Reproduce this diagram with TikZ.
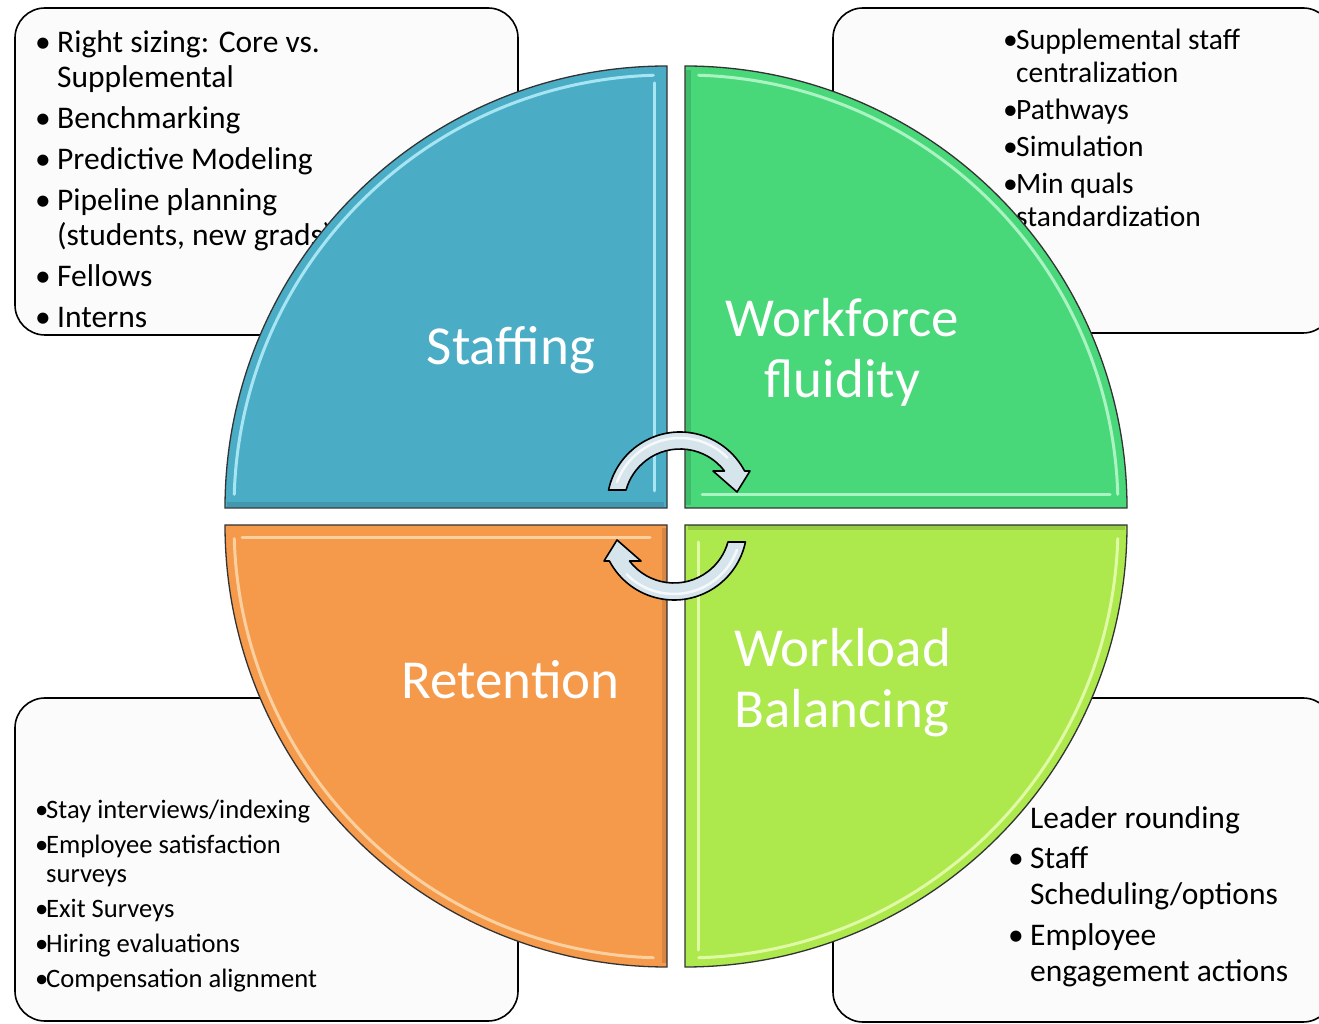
\documentclass[tikz,border=0pt]{standalone}
\usepackage{fontspec}
\setmainfont{Carlito}
\usetikzlibrary{calc}
\definecolor{cblue}{HTML}{4BACC6}
\definecolor{cgreen}{HTML}{48D779}
\definecolor{corange}{HTML}{F59A4A}
\definecolor{clime}{HTML}{ADE84C}
\definecolor{hblue}{HTML}{B8F0FA}
\definecolor{hgreen}{HTML}{BDF9CF}
\definecolor{horange}{HTML}{FDDAB0}
\definecolor{hlime}{HTML}{EAFCB8}
\definecolor{boxfill}{HTML}{FBFBFB}
\definecolor{arrowfill}{HTML}{D6E4EC}
\newcommand\mybul[1]{\makebox[#1][l]{•}}
\begin{document}
\begin{tikzpicture}[x=1pt,y=1pt,
  infobox/.style={draw=black, line width=1.6pt, fill=boxfill, rounded corners=30pt, inner sep=0pt},
  quarterbody/.style={draw=black!80, line width=1.3pt},
  hilite/.style={line width=3pt, opacity=0.85, line cap=round, line join=round},
  shade/.style={line width=5pt, opacity=0.12, draw=black, line cap=butt},
  lbl/.style={text=white, inner sep=0pt, font=\fontsize{55}{61}\selectfont},
  listtext/.style={inner sep=0pt, anchor=base west, text=black},
  arrowbody/.style={fill=arrowfill, draw=black, line width=1.6pt, line join=round}
]
\useasboundingbox (0,0) rectangle (1319,1023);
\clip (0,0) rectangle (1319,1023);
\fill[white] (0,0) rectangle (1319,1023);

% ---------- corner boxes ----------
\node[infobox, minimum width=503pt, minimum height=327pt] (tlbox) at (266.5,851.5) {};
\node[infobox, minimum width=500pt, minimum height=325pt] (trbox) at (1083,852.5) {};
\node[infobox, minimum width=503pt, minimum height=323pt] (blbox) at (266.5,163.5) {};
\node[infobox, minimum width=500pt, minimum height=324pt] (brbox) at (1083,163) {};

% ---------- box texts ----------
\node[listtext, font=\fontsize{31.5}{35}\selectfont] (tltext) at (35,970) {%
\begin{tabular}[t]{@{}l@{}l@{}}
\mybul{22pt} & Right sizing: Core vs.\\
 & Supplemental\\[6pt]
\mybul{22pt} & Benchmarking\\[6pt]
\mybul{22pt} & Predictive Modeling\\[6pt]
\mybul{22pt} & Pipeline planning\\
 & (students, new grads)\\[6pt]
\mybul{22pt} & Fellows\\[6pt]
\mybul{22pt} & Interns
\end{tabular}};

\node[listtext, font=\fontsize{29.5}{33}\selectfont] (trtext) at (1003,973) {%
\begin{tabular}[t]{@{}l@{}l@{}}
\mybul{13pt} & Supplemental staff\\
 & centralization\\[4pt]
\mybul{13pt} & Pathways\\[4pt]
\mybul{13pt} & Simulation\\[4pt]
\mybul{13pt} & Min quals\\
 & standardization
\end{tabular}};

\node[listtext, font=\fontsize{26.6}{29}\selectfont] (bltext) at (35,204.5) {%
\begin{tabular}[t]{@{}l@{}l@{}}
\mybul{11pt} & Stay interviews/indexing\\[6pt]
\mybul{11pt} & Employee satisfaction\\
 & surveys\\[6pt]
\mybul{11pt} & Exit Surveys\\[6pt]
\mybul{11pt} & Hiring evaluations\\[6pt]
\mybul{11pt} & Compensation alignment
\end{tabular}};

\node[listtext, font=\fontsize{31.5}{36}\selectfont] (brtext) at (1008,195) {%
\begin{tabular}[t]{@{}l@{}l@{}}
 & Leader rounding\\[4pt]
\mybul{22pt} & Staff\\
 & Scheduling/options\\[5pt]
\mybul{22pt} & Employee\\
 & engagement actions
\end{tabular}};

% ---------- quarters ----------
% Staffing (highlight: arc + inner vertical edge)
\begin{scope}[shift={(667,515)}]
  \filldraw[quarterbody, fill=cblue] (0,0) -- (-442,0) arc[start angle=180, end angle=90, radius=442] -- cycle;
  \draw[shade] (-440,3) -- (-3,3);
  \draw[hilite, draw=hblue] (178.2:433) arc[start angle=178.2, end angle=91.8, radius=433];
  \draw[hilite, draw=hblue] (-13,425) -- (-13,17);
\end{scope}
% Workforce fluidity (highlight: arc + bottom edge)
\begin{scope}[shift={(685,515)}, xscale=-1]
  \filldraw[quarterbody, fill=cgreen] (0,0) -- (-442,0) arc[start angle=180, end angle=90, radius=442] -- cycle;
  \draw[shade] (-3,3) -- (-3,438);
  \draw[hilite, draw=hgreen] (178.2:433) arc[start angle=178.2, end angle=91.8, radius=433];
  \draw[hilite, draw=hgreen] (-425,13) -- (-17,13);
\end{scope}
% Retention (highlight: arc + top edge)
\begin{scope}[shift={(667,498)}, yscale=-1]
  \filldraw[quarterbody, fill=corange] (0,0) -- (-442,0) arc[start angle=180, end angle=90, radius=442] -- cycle;
  \draw[shade] (-3,3) -- (-3,438);
  \draw[hilite, draw=horange] (178.2:433) arc[start angle=178.2, end angle=91.8, radius=433];
  \draw[hilite, draw=horange] (-425,13) -- (-17,13);
\end{scope}
% Workload Balancing (highlight: arc + left edge)
\begin{scope}[shift={(685,498)}, xscale=-1, yscale=-1]
  \filldraw[quarterbody, fill=clime] (0,0) -- (-442,0) arc[start angle=180, end angle=90, radius=442] -- cycle;
  \draw[shade] (-440,3) -- (-3,3);
  \draw[hilite, draw=hlime] (178.2:433) arc[start angle=178.2, end angle=91.8, radius=433];
  \draw[hilite, draw=hlime] (-13,425) -- (-13,17);
\end{scope}

% ---------- quarter labels ----------
\node[lbl, anchor=base] (staffing) at (511,658) {Staffing};
\node[lbl, anchor=base] (retention) at (510.5,324) {Retention};
\node[lbl, anchor=base] (workforce) at (842.5,686) {\begin{tabular}[t]{@{}c@{}}Workforce\\ fluidity\end{tabular}};
\node[lbl, anchor=base west] (workload) at (734,356) {\begin{tabular}[t]{@{}l@{}}Workload\\ Balancing\end{tabular}};

% ---------- circular arrows ----------
\begin{scope}[shift={(680,518)}]
  \filldraw[arrowbody] (168.14:73) arc[start angle=168.14, end angle=27.76, radius=73]
    -- (70,34) -- (57,13) -- (33,34) -- (37.38:56)
    arc[start angle=37.38, end angle=164.46, radius=56] -- cycle;
  \draw[white, opacity=0.8, line width=2.5pt, line cap=round] (160:67) arc[start angle=160, end angle=45, radius=67];
\end{scope}
\begin{scope}[shift={(674,496)}, rotate=180]
  \filldraw[arrowbody] (168.14:73) arc[start angle=168.14, end angle=27.76, radius=73]
    -- (70,34) -- (57,13) -- (33,34) -- (37.38:56)
    arc[start angle=37.38, end angle=164.46, radius=56] -- cycle;
  \draw[white, opacity=0.8, line width=2.5pt, line cap=round] (160:67) arc[start angle=160, end angle=45, radius=67];
\end{scope}
\end{tikzpicture}
\end{document}
